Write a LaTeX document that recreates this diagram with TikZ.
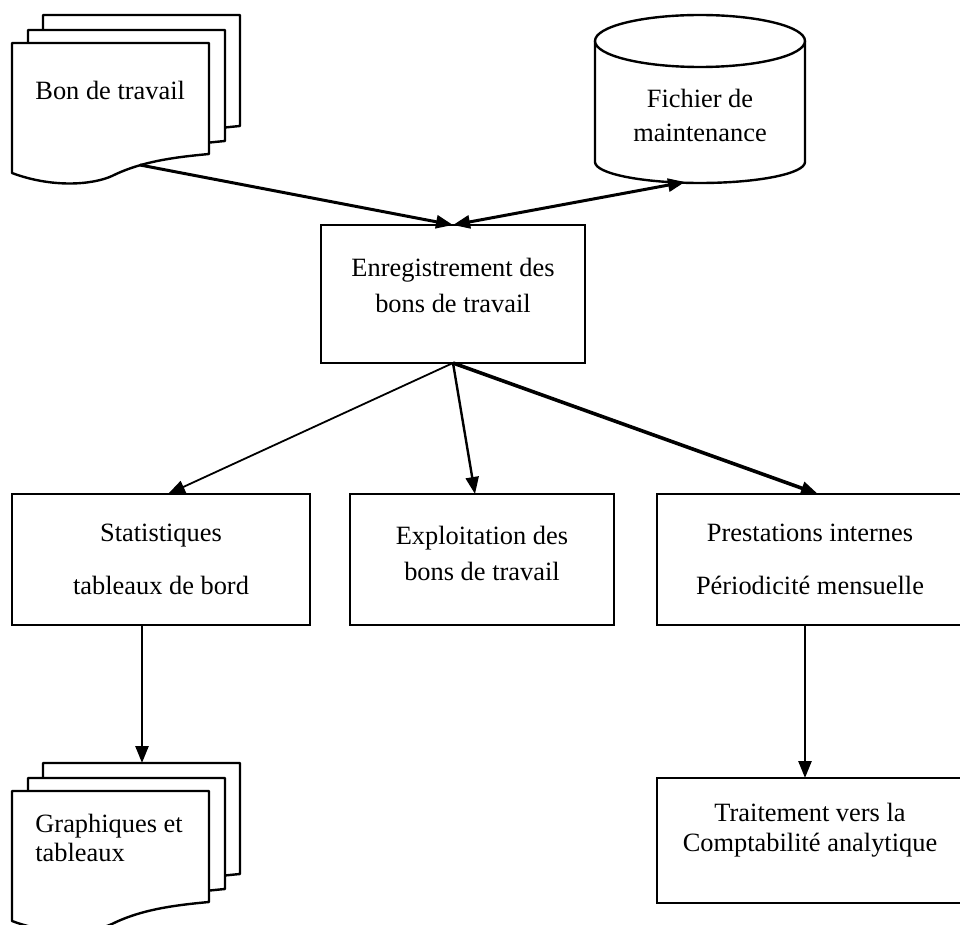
\documentclass[tikz,border=0pt]{standalone}
\usepackage{fontspec}
\setmainfont{Liberation Serif}
\usetikzlibrary{arrows.meta}

% stack of three sheets, #1 = top left of the front sheet, #2 = name, #3 = text
\newcommand{\docpile}[3]{%
  \begin{scope}[shift={#1}]
    \foreach \dx/\dy in {31/-28,16/-13,0/0}
      \draw[page,shift={(\dx,\dy)}] (0,0) -- (197,0) -- (197,111)
        .. controls (165,114) and (130,118) .. (100,133)
        .. controls (80,142) and (40,145) .. (0,130) -- cycle;
    \node[txt,anchor=west,align=left] (#2-t) at (23,47) {#3};
    \coordinate (#2-in) at (130,-28);
    \coordinate (#2-out) at (128,122);
  \end{scope}}

\begin{document}
\begin{tikzpicture}[x=0.5pt,y=-0.5pt,>={Triangle[length=8.5pt,width=6.5pt]}]
  \tikzstyle{page}=[line width=1.2pt, fill=white, line join=round]
  \tikzstyle{box}=[draw, line width=1pt, inner sep=0pt, outer sep=0pt]
  \tikzstyle{txt}=[inner sep=0pt, align=center, font=\fontsize{13.2}{18}\selectfont]

  \useasboundingbox (0,0) rectangle (960,925);

  \docpile{(12,43)}{bon}{Bon de travail}
  \docpile{(12,791)}{graph}{Graphiques et\\[-3.5pt]tableaux}

  % fichier
  \draw[page] (595,41) -- (595,162) arc[start angle=180, end angle=0, x radius=105, y radius=21] -- (805,41);
  \draw[page] (700,41) ellipse [x radius=105, y radius=26];
  \coordinate (cylbas) at (685,182);
  \node[txt] (fich) at (700,115) {Fichier de\\[-1pt]maintenance};

  \node[box, minimum width=132pt, minimum height=69pt] (enr) at (453,294) {};
  \node[box, minimum width=149pt, minimum height=65.5pt] (stat) at (161,559.5) {};
  \node[box, minimum width=132pt, minimum height=65.5pt] (expl) at (482,559.5) {};
  \node[box, minimum width=153pt, minimum height=65.5pt] (prest) at (810,559.5) {};
  \node[box, minimum width=153pt, minimum height=62.5pt] (trait) at (810,840.5) {};

  \node[txt] (enr-t) at ([yshift=4.5pt]enr.center) {Enregistrement des\\bons de travail};
  \node[txt] (stat-t) at (stat.center) {Statistiques\\[8.5pt]tableaux de bord};
  \node[txt] (expl-t) at ([yshift=3pt]expl.center) {Exploitation des\\bons de travail};
  \node[txt] (prest-t) at (prest.center) {Prestations internes\\[8.5pt]Périodicité mensuelle};
  \node[txt] (trait-t) at ([yshift=5.25pt]trait.center) {Traitement vers la\\[-3pt]Comptabilité analytique};

  \draw[->, line width=1.5pt] (bon-out) -- (enr.north);
  \draw[<->, line width=1.5pt] (enr.north) -- (cylbas);
  \foreach \to/\dx/\w in {stat/3.5pt/0.9pt, expl/-3.5pt/1.2pt, prest/4pt/1.8pt}
    \draw[->, line width=\w] (enr.south) -- ([xshift=\dx]\to.north);
  \draw[->, line width=1.3pt] (stat.south -| graph-in) -- (graph-in);
  \draw[->, line width=1.3pt] ([xshift=-2.5pt]prest.south) -- ([xshift=-2.5pt]trait.north);
\end{tikzpicture}
\end{document}
